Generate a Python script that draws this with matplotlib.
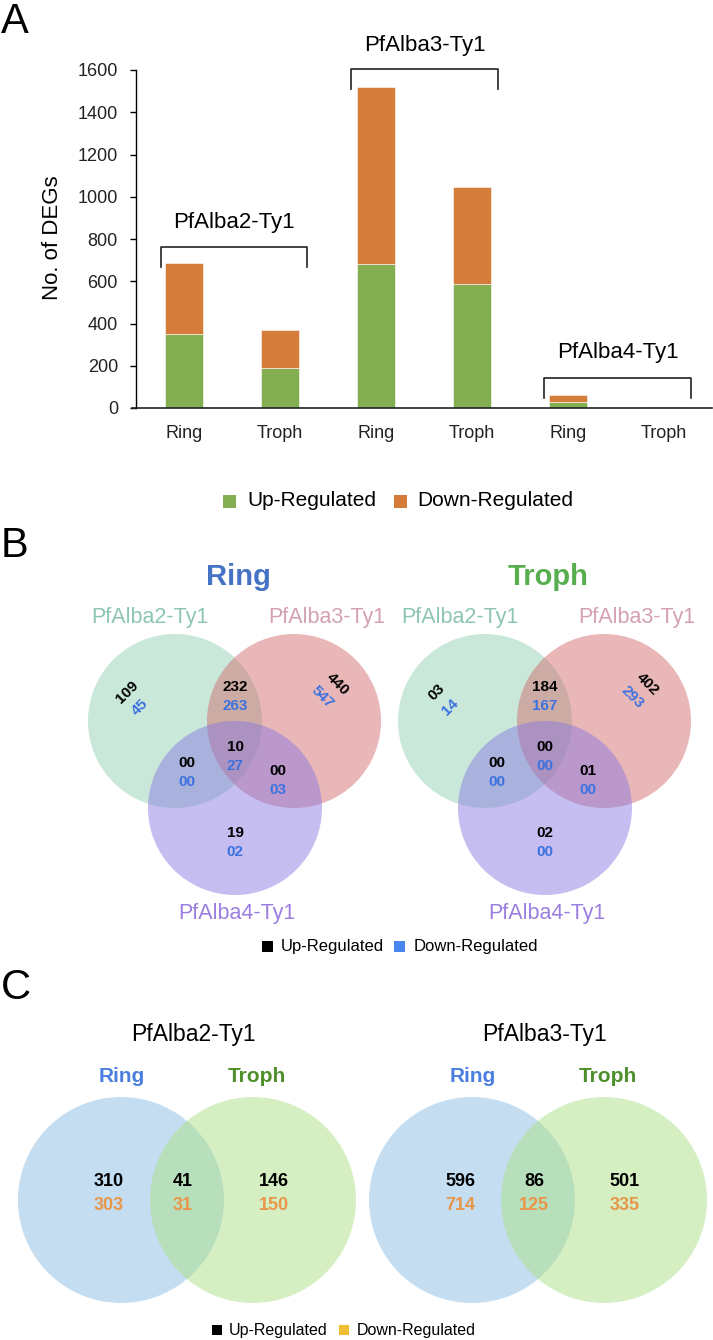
import matplotlib
matplotlib.use("Agg")
import matplotlib.pyplot as plt
from matplotlib.patches import Circle, Rectangle

plt.rcParams['font.family'] = ['Liberation Sans', 'DejaVu Sans']

# ---------------- data ----------------
stages = ["Ring", "Troph", "Ring", "Troph", "Ring", "Troph"]
groups = ["PfAlba2-Ty1", "PfAlba3-Ty1", "PfAlba4-Ty1"]
up_counts = [351, 187, 682, 587, 29, 3]
down_counts = [334, 181, 839, 460, 32, 0]
yticks = [0, 200, 400, 600, 800, 1000, 1200, 1400, 1600]

# Venn B (three-set): order = A only, B only, C only, AB, AC, BC, ABC
ring_up = ["109", "440", "19", "232", "00", "00", "10"]
ring_down = ["45", "547", "02", "263", "00", "03", "27"]
troph_up = ["03", "402", "02", "184", "00", "01", "00"]
troph_down = ["14", "293", "00", "167", "00", "00", "00"]

# Venn C (two-set): order = Ring only, shared, Troph only
alba2_up = ["310", "41", "146"]
alba2_down = ["303", "31", "150"]
alba3_up = ["596", "86", "501"]
alba3_down = ["714", "125", "335"]

GREEN = "#83AE52"
ORANGE = "#D57C3A"

W, H = 713, 1340
fig = plt.figure(figsize=(W / 100, H / 100), dpi=100)

# ---------------- Panel A ----------------
ax = fig.add_axes([136 / W, 1 - 408 / H, (712 - 136) / W, (408 - 70) / H])
x = list(range(len(stages)))
b1 = ax.bar(x, up_counts, width=0.4, color=GREEN, edgecolor="white", linewidth=0.4)
b2 = ax.bar(x, down_counts, width=0.4, bottom=up_counts, color=ORANGE,
            edgecolor="white", linewidth=0.4)
ax.set_xlim(-0.5, 5.5)
ax.set_ylim(0, 1600)
ax.set_yticks(yticks)
ax.set_xticks(x)
ax.set_xticklabels(stages)
ax.tick_params(axis="y", length=4, width=1, pad=9, labelsize=13, labelcolor="#222222")
ax.tick_params(axis="x", length=0, pad=12, labelsize=13, labelcolor="#222222")
for s in ["top", "right", "bottom"]:
    ax.spines[s].set_visible(False)
ax.spines["left"].set_linewidth(1.0)
ax.plot([-0.54, 5.5], [0, 0], color="#222222", lw=1.2, clip_on=False, zorder=3)

brackets = [(-0.24, 1.28, 762, 667, 876),
            (1.74, 3.27, 1605, 1510, 1718),
            (3.75, 5.28, 142, 47, 265)]
for g, (xl, xr, yt, yb, ylab) in zip(groups, brackets):
    ax.plot([xl, xl, xr, xr], [yb, yt, yt, yb], color="#222222", lw=1.2, clip_on=False)
    ax.text((xl + xr) / 2, ylab, g, ha="center", va="center", fontsize=16, clip_on=False)

fig.text(53 / W, 1 - 238 / H, "No. of DEGs", rotation=90, ha="center", va="center", fontsize=16)

# ---------------- overlay axes for everything else ----------------
ov = fig.add_axes([0, 0, 1, 1])
ov.set_xlim(0, W)
ov.set_ylim(H, 0)
ov.axis("off")

# panel letters
for lbl, yy in [("A", 22), ("B", 546), ("C", 988)]:
    ov.text(1, yy, lbl, fontsize=30, ha="left", va="center")

# legend helper
def legend_item(xs, yc, size, color, label, fs, tx):
    ov.add_patch(Rectangle((xs, yc - size / 2), size, size, color=color, lw=0))
    ov.text(tx, yc, label, fontsize=fs, ha="left", va="center")

legend_item(223, 501, 13, GREEN, "Up-Regulated", 15, 247)
legend_item(394, 501, 13, ORANGE, "Down-Regulated", 15, 417)

# ---------------- Panel B ----------------
def venn3(cx0, title, title_color, up, down):
    r = 87
    cA = (cx0 - 60, 721)
    cB = (cx0 + 59, 721)
    cC = (cx0, 808)
    ov.add_patch(Circle(cA, r, facecolor="#8FCFB3", alpha=0.48, lw=0))
    ov.add_patch(Circle(cB, r, facecolor="#D26A6C", alpha=0.48, lw=0))
    ov.add_patch(Circle(cC, r, facecolor="#8878E0", alpha=0.48, lw=0))
    ov.text(cx0 + 3, 577, title, fontsize=21, fontweight="bold", color=title_color,
            ha="center", va="center")
    ov.text(cx0 - 85, 617, "PfAlba2-Ty1", fontsize=15.5, color="#8DC5B4", ha="center", va="center")
    ov.text(cx0 + 92, 617, "PfAlba3-Ty1", fontsize=15.5, color="#D4A0B3", ha="center", va="center")
    ov.text(cx0 + 2, 914, "PfAlba4-Ty1", fontsize=15.5, color="#9B7EE0", ha="center", va="center")
    fs = 11
    blue = "#3C72E0"
    # A only (rotated)
    ov.text(cx0 - 108, 692, up[0], fontsize=fs, fontweight="bold", rotation=45,
            ha="center", va="center", rotation_mode="anchor")
    ov.text(cx0 - 95, 707, down[0], fontsize=fs, fontweight="bold", rotation=45, color=blue,
            ha="center", va="center", rotation_mode="anchor")
    # B only (rotated)
    ov.text(cx0 + 103, 684, up[1], fontsize=fs, fontweight="bold", rotation=-45,
            ha="center", va="center", rotation_mode="anchor")
    ov.text(cx0 + 87, 697, down[1], fontsize=fs, fontweight="bold", rotation=-45, color=blue,
            ha="center", va="center", rotation_mode="anchor")
    pos = {2: (cx0, 833), 3: (cx0, 687), 4: (cx0 - 48, 763), 5: (cx0 + 43, 771), 6: (cx0, 747)}
    for k, (px, py) in pos.items():
        ov.text(px, py, up[k], fontsize=fs, fontweight="bold", ha="center", va="center")
        ov.text(px, py + 19, down[k], fontsize=fs, fontweight="bold", color=blue,
                ha="center", va="center")

venn3(235, "Ring", "#4472C4", ring_up, ring_down)
venn3(545, "Troph", "#58AE4F", troph_up, troph_down)

legend_item(262, 946, 11, "black", "Up-Regulated", 12, 281)
legend_item(394, 946, 11, "#4A86F0", "Down-Regulated", 12, 414)

# ---------------- Panel C ----------------
def venn2(cx0, title, up, down):
    r = 103
    c1 = (cx0 - 66, 1200)
    c2 = (cx0 + 66, 1200)
    ov.add_patch(Circle(c1, r, facecolor="#8BBDE5", alpha=0.5, lw=0))
    ov.add_patch(Circle(c2, r, facecolor="#ADE189", alpha=0.5, lw=0))
    ov.text(cx0 + 6, 1035, title, fontsize=16.5, ha="center", va="center")
    ov.text(cx0 - 65, 1077, "Ring", fontsize=15, fontweight="bold", color="#4A7FE0",
            ha="center", va="center")
    ov.text(cx0 + 70, 1077, "Troph", fontsize=15, fontweight="bold", color="#4D8F2B",
            ha="center", va="center")
    xs = [cx0 - 78, cx0 - 4, cx0 + 87]
    for px, u, d in zip(xs, up, down):
        ov.text(px, 1181, u, fontsize=13, fontweight="bold", ha="center", va="center")
        ov.text(px, 1205, d, fontsize=13, fontweight="bold", color="#E8964A",
                ha="center", va="center")

venn2(187, "PfAlba2-Ty1", alba2_up, alba2_down)
venn2(538, "PfAlba3-Ty1", alba3_up, alba3_down)

legend_item(212, 1330, 10, "black", "Up-Regulated", 11.5, 229)
legend_item(339, 1330, 10, "#F0BE32", "Down-Regulated", 11.5, 357)

fig.savefig("out.png", dpi=100)
